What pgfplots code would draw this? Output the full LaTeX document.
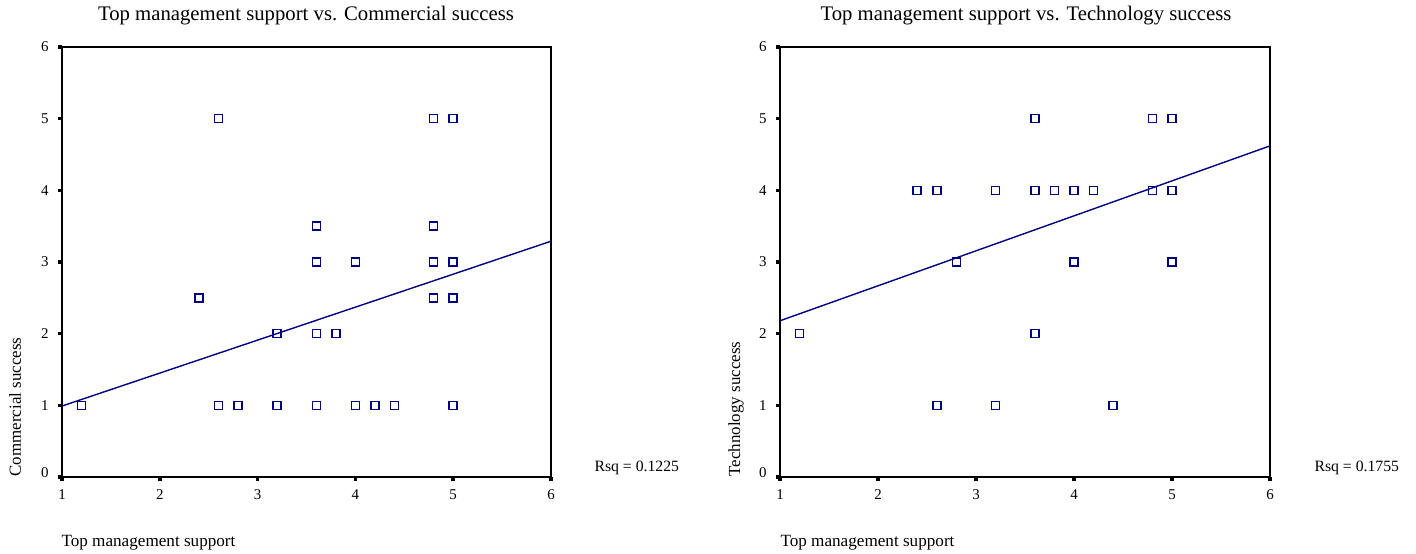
\documentclass[border=0pt]{standalone}
\usepackage{fontspec}
\setmainfont{Liberation Serif}
\usepackage{pgfplots}
\pgfplotsset{compat=1.18}
\definecolor{navy}{RGB}{0,0,128}
\pgfplotsset{
  sc/.style={
    scale only axis, width=489bp, height=430bp,
    xmin=1, xmax=6, ymin=0, ymax=6,
    xtick={1,2,3,4,5,6}, ytick={0,1,2,3,4,5,6},
    yticklabels={\raisebox{9bp}{0},1,2,3,4,5,6},
    axis line style={line width=1.6bp},
    tick align=outside, major tick length=4bp,
    tick style={line width=3.5bp, black},
    xtick pos=bottom, ytick pos=left,
    ticklabel style={font=\fontsize{15}{17}\selectfont},
    /pgf/number format/assume math mode=true,
    yticklabel style={xshift=-6bp},
    xticklabel style={yshift=-5bp},
  },
  pts/.style={only marks, mark=square, mark size=4bp,
    mark options={draw=navy, fill=white, line width=1.5bp}},
  fit/.style={no marks, navy, line width=1.4bp},
}
\begin{document}
\begin{tikzpicture}
\useasboundingbox (0,0) rectangle (1416bp,554bp);
\begin{axis}[sc, at={(62bp,77bp)}, anchor=south west]
\addplot[fit] coordinates {(1,0.99) (6,3.29)};
\addplot[pts] coordinates {
(1.2,1) (2.6,5) (2.4,2.5) (2.6,1) (2.8,1) (3.2,1) (3.6,1) (4.0,1) (4.2,1) (4.4,1) (5.0,1)
(3.2,2) (3.6,2) (3.8,2) (3.6,3.5) (3.6,3) (4.0,3) (4.8,5) (5.0,5) (4.8,3.5)
(4.8,3) (5.0,3) (4.8,2.5) (5.0,2.5)
};
\end{axis}
\begin{axis}[sc, at={(780bp,77bp)}, anchor=south west, width=490bp]
\addplot[fit] coordinates {(1,2.18) (6,4.62)};
\addplot[pts] coordinates {
(1.2,2) (2.4,4) (2.6,4) (3.2,4) (3.6,4) (3.8,4) (4.0,4) (4.2,4) (4.8,4) (5.0,4)
(2.8,3) (4.0,3) (5.0,3) (3.6,5) (4.8,5) (5.0,5) (3.6,2) (2.6,1) (3.2,1) (4.4,1)
};
\end{axis}
\node[font=\fontsize{20.8}{24}\selectfont] at (306bp,538bp) {Top management support vs. Commercial success};
\node[font=\fontsize{20.8}{24}\selectfont] at (1026bp,538bp) {Top management support vs. Technology success};
\node[font=\fontsize{17.2}{20}\selectfont, anchor=west] at (58bp,11bp) {Top management support};
\node[font=\fontsize{17.2}{20}\selectfont, anchor=west] at (777bp,11bp) {Top management support};
\node[font=\fontsize{17}{20}\selectfont, rotate=90, anchor=west] at (15bp,74bp) {Commercial success};
\node[font=\fontsize{17}{20}\selectfont, rotate=90, anchor=west] at (736bp,74bp) {Technology success};
\node[font=\fontsize{15.8}{18}\selectfont, anchor=west] at (591bp,86bp) {Rsq = 0.1225};
\node[font=\fontsize{15.8}{18}\selectfont, anchor=west] at (1311bp,86bp) {Rsq = 0.1755};
\end{tikzpicture}
\end{document}
